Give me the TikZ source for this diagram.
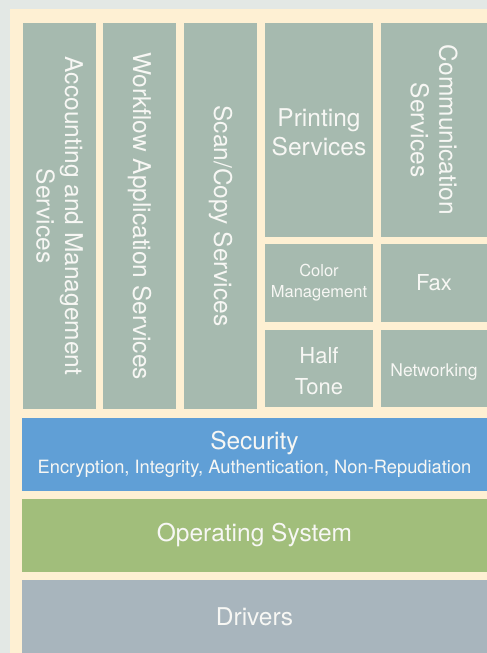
\documentclass[tikz,border=0pt]{standalone}
\usepackage{fontspec}
\setmainfont{TeX Gyre Heros}
\definecolor{bgc}{HTML}{E3E8E5}
\definecolor{cream}{HTML}{FEF0D3}
\definecolor{boxgray}{HTML}{A6BAAF}
\definecolor{secblue}{HTML}{609FD6}
\definecolor{osgreen}{HTML}{A1BE7B}
\definecolor{drvgray}{HTML}{A8B5BD}
\definecolor{txt}{HTML}{F7F7F4}
\begin{document}
\begin{tikzpicture}[x=1pt,y=-1pt,
  box/.style={fill=boxgray, inner sep=0pt, text=txt, align=center,
    font=\fontsize{24.5}{28.5}\selectfont},
  smalltext/.style={font=\fontsize{16.5}{21}\selectfont},
  midtext/.style={font=\fontsize{22}{31}\selectfont},
  layer/.style={box, minimum width=465pt, minimum height=73pt}]
\useasboundingbox (0,0) rectangle (487,653);
\fill[bgc] (0,0) rectangle (487,653);
\fill[cream] (10,9) rectangle (487,653);
% vertical columns
\node[box, rotate=-90, minimum width=386pt, minimum height=73pt] (acc) at (59.5,216)
  {Accounting and Management\\Services};
\node[box, rotate=-90, minimum width=386pt, minimum height=73pt] (wf) at (139.5,216)
  {Workflow Application Services};
\node[box, rotate=-90, minimum width=386pt, minimum height=73pt] (scan) at (220.5,216)
  {Scan/Copy Services};
% right blocks
\node[box, minimum width=108pt, minimum height=214pt] (print) at (319,130) {};
\node[txt, align=center, font=\fontsize{24.5}{28.5}\selectfont] at (319,132.5) {Printing\\Services};
\node[box, rotate=-90, minimum width=214pt, minimum height=106pt] (comm) at (434,130)
  {Communication\\Services};
\node[box, smalltext, minimum width=108pt, minimum height=78pt] (color) at (319,283)
  {Color\\Management};
\node[box, midtext, minimum width=106pt, minimum height=78pt] (fax) at (434,283)
  {Fax};
\node[box, minimum width=108pt, minimum height=77pt] (half) at (319,368.5) {};
\node[txt, align=center, midtext] at (319,371.5) {Half\\Tone};
\node[box, minimum width=106pt, minimum height=77pt] (net) at (434,368.5) {};
\node[txt, font=\fontsize{17.5}{21}\selectfont] at (434,372.5) {Networking};
% layers
\node[layer, fill=secblue] (sec) at (254.5,454.5)
  {Security\\[-5pt]{\fontsize{18.3}{21}\selectfont Encryption, Integrity, Authentication, Non-Repudiation}};
\node[layer, fill=osgreen] (os) at (254.5,535.5) {Operating System};
\node[layer, fill=drvgray] (drv) at (254.5,616.5) {Drivers};
\end{tikzpicture}
\end{document}
